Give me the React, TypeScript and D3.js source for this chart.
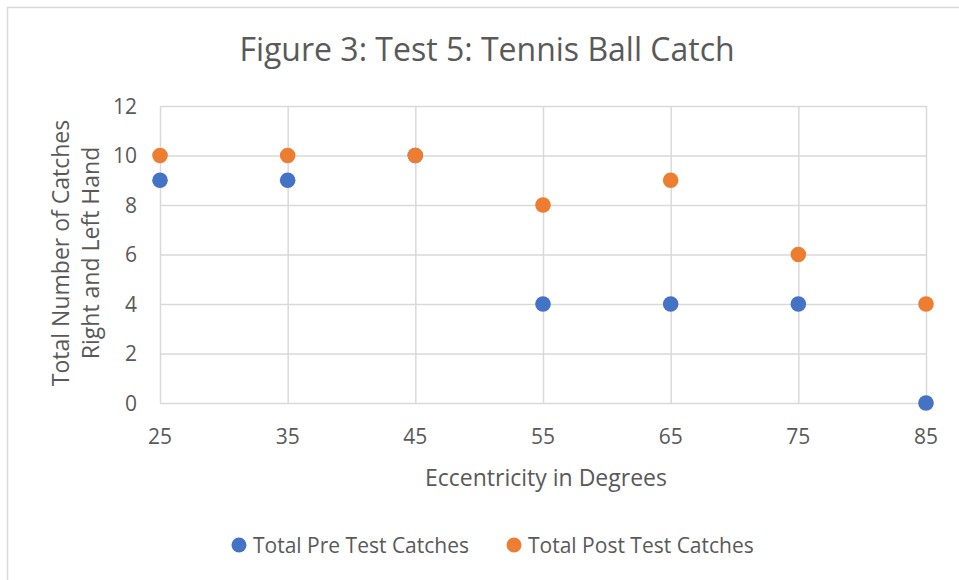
import React, { useEffect, useRef } from "react";
import * as d3 from "d3";

const eccentricity = [25, 35, 45, 55, 65, 75, 85];
const preTest = [9, 9, 10, 4, 4, 4, 0];
const postTest = [10, 10, 10, 8, 9, 6, 4];
const yTicks = [0, 2, 4, 6, 8, 10, 12];
const seriesNames = ["Total Pre Test Catches", "Total Post Test Catches"];
const seriesColors = ["#4472C4", "#ED7D31"];

const FONT = "'Open Sans', sans-serif";
const TEXT = "#595959";
const GRID = "#D9D9D9";

const App = () => {
  const ref = useRef<SVGSVGElement | null>(null);

  useEffect(() => {
    drawChart();
  }, []);

  function drawChart() {
    const width = 959;
    const height = 580;
    const margin = { top: 106, right: 33, bottom: 177, left: 160 };

    const svg = d3.select(ref.current);
    svg.selectAll("*").remove();

    // outer chart border (runs off the right and bottom of the picture)
    svg
      .append("rect")
      .attr("x", 7.5)
      .attr("y", 7.5)
      .attr("width", 1000)
      .attr("height", 1000)
      .attr("fill", "#fff")
      .attr("stroke", GRID)
      .attr("stroke-width", 1.5);

    const xScale = d3
      .scaleLinear()
      .domain([25, 85])
      .range([margin.left, width - margin.right]);
    const yScale = d3
      .scaleLinear()
      .domain([0, 12])
      .range([height - margin.bottom, margin.top]);

    const g = svg.append("g");

    // grid
    g.append("g")
      .attr("class", "grid")
      .attr("transform", `translate(0,${height - margin.bottom})`)
      .call(
        d3
          .axisBottom(xScale)
          .tickValues(eccentricity)
          .tickSize(-(height - margin.bottom - margin.top))
          .tickFormat(() => "")
      );
    g.append("g")
      .attr("class", "grid")
      .attr("transform", `translate(${margin.left},0)`)
      .call(
        d3
          .axisLeft(yScale)
          .tickValues(yTicks)
          .tickSize(-(width - margin.right - margin.left))
          .tickFormat(() => "")
      );
    g.selectAll(".grid .domain").remove();
    g.selectAll(".grid line").attr("stroke", GRID).attr("stroke-width", 1.5);

    // tick labels
    g.append("g")
      .selectAll("text")
      .data(eccentricity)
      .join("text")
      .attr("x", (d) => xScale(d))
      .attr("y", height - margin.bottom + 41)
      .attr("text-anchor", "middle")
      .attr("font-family", FONT)
      .attr("font-size", 21)
      .attr("fill", TEXT)
      .text((d) => d);
    g.append("g")
      .selectAll("text")
      .data(yTicks)
      .join("text")
      .attr("x", margin.left - 23)
      .attr("y", (d) => yScale(d))
      .attr("dy", "0.36em")
      .attr("text-anchor", "end")
      .attr("font-family", FONT)
      .attr("font-size", 21)
      .attr("fill", TEXT)
      .text((d) => d);

    // points
    const series = [preTest, postTest];
    series.forEach((vals, i) => {
      g.append("g")
        .selectAll("circle")
        .data(vals)
        .join("circle")
        .attr("cx", (_d, j) => xScale(eccentricity[j]))
        .attr("cy", (d) => yScale(d))
        .attr("r", 7.8)
        .attr("fill", seriesColors[i]);
    });

    // title
    svg
      .append("text")
      .attr("x", 487)
      .attr("y", 61)
      .attr("text-anchor", "middle")
      .attr("font-family", FONT)
      .attr("font-size", 32)
      .attr("fill", TEXT)
      .text("Figure 3: Test 5: Tennis Ball Catch");

    // axis titles
    svg
      .append("text")
      .attr("x", 546)
      .attr("y", 486)
      .attr("text-anchor", "middle")
      .attr("font-family", FONT)
      .attr("font-size", 23)
      .attr("fill", TEXT)
      .text("Eccentricity in Degrees");

    const yTitle = svg
      .append("text")
      .attr("transform", "translate(69,253) rotate(-90)")
      .attr("text-anchor", "middle")
      .attr("font-family", FONT)
      .attr("font-size", 23)
      .attr("fill", TEXT);
    yTitle.append("tspan").attr("x", 0).attr("y", 0).text("Total Number of Catches");
    yTitle.append("tspan").attr("x", 0).attr("y", 30).text("Right and Left Hand");

    // legend
    const legendX = [239, 514];
    seriesNames.forEach((name, i) => {
      const lg = svg.append("g").attr("transform", `translate(${legendX[i]},545)`);
      lg.append("circle").attr("r", 7.5).attr("fill", seriesColors[i]);
      lg.append("text")
        .attr("x", 14)
        .attr("dy", "0.36em")
        .attr("font-family", FONT)
        .attr("font-size", 21)
        .attr("fill", TEXT)
        .text(name);
    });
  }

  return (
    <svg
      ref={ref}
      width={959}
      height={580}
      style={{ position: "absolute", left: 0, top: 0, background: "#fff" }}
    />
  );
};

export default App;
